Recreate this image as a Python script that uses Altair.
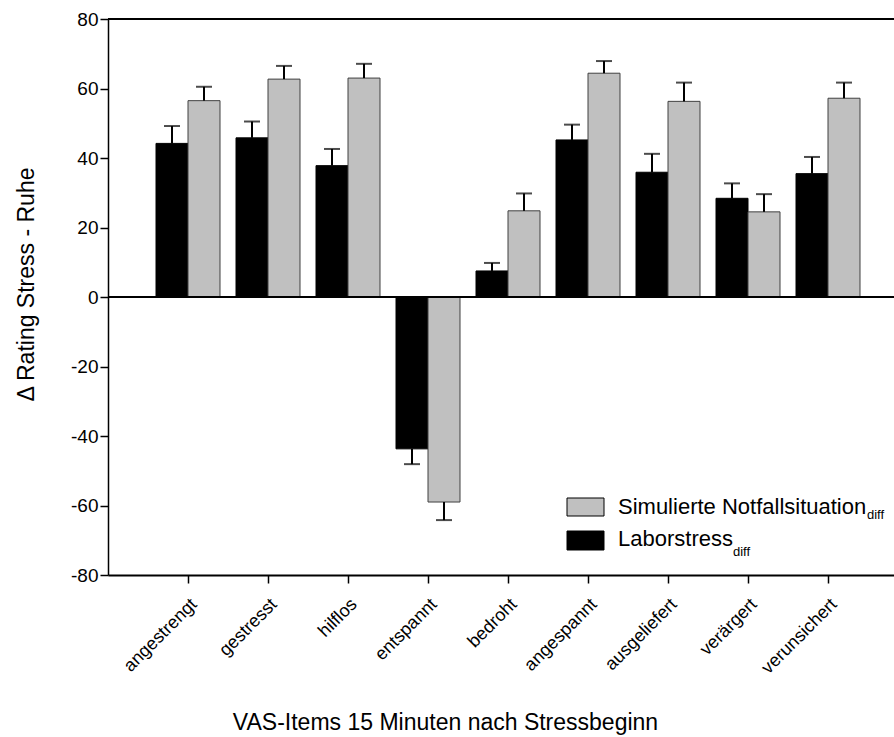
import altair as alt
import pandas as pd

items = ["angestrengt", "gestresst", "hilflos", "entspannt", "bedroht",
         "angespannt", "ausgeliefert", "verärgert", "verunsichert"]
labor = [44.2, 45.8, 37.8, -43.7, 7.5, 45.2, 35.9, 28.4, 35.5]
labor_se = [5.0, 4.7, 4.8, 4.4, 2.3, 4.4, 5.3, 4.3, 4.8]
sim = [56.5, 62.7, 63.0, -59.0, 24.8, 64.4, 56.3, 24.5, 57.2]
sim_se = [4.0, 3.8, 4.1, 5.2, 5.0, 3.5, 5.4, 5.1, 4.5]
series = ["Laborstress", "Simulierte Notfallsituation"]

rows = []
for i, it in enumerate(items):
    for s, vals, ses in ((series[0], labor, labor_se), (series[1], sim, sim_se)):
        v = vals[i]
        e = ses[i]
        rows.append({"item": it, "series": s, "value": v, "err": e,
                     "cap": v + (e if v >= 0 else -e)})
df = pd.DataFrame(rows)

FONT = "Liberation Sans"

xenc = alt.X("item:N", sort=items,
             scale=alt.Scale(paddingInner=0.2, paddingOuter=0.5125, align=0.5854),
             axis=alt.Axis(title="VAS-Items 15 Minuten nach Stressbeginn",
                           labelAngle=-45, labelAlign="right", labelBaseline="top",
                           labelPadding=12, labelFontSize=18, labelColor="black", labelFont=FONT,
                           tickSize=8, tickColor="black", tickWidth=1.5,
                           domainColor="black", domainWidth=2,
                           titleFont=FONT, titleFontSize=23, titleFontWeight="normal", titleColor="black",
                           titleX=337, titleY=154, titleBaseline="alphabetic",
                           titleAnchor="start", titleAlign="center"))
yscale = alt.Scale(domain=[-80, 80], nice=False, zero=False)
yaxis = alt.Axis(title="Δ Rating Stress - Ruhe", values=list(range(-80, 81, 20)),
                 labelExpr="datum.value < 0 ? '-' + abs(datum.value) : '' + datum.value",
                 labelFont=FONT, labelFontSize=19, labelColor="black", labelPadding=2,
                 tickSize=8, tickColor="black", tickWidth=1.5,
                 domainColor="black", domainWidth=1.5, grid=False,
                 titleFont=FONT, titleFontSize=23, titleFontWeight="normal", titleColor="black",
                 titleX=-75, titleY=265, titleBaseline="alphabetic", titleAngle=-90)
xoff = alt.XOffset("series:N", sort=series,
                   scale=alt.Scale(paddingInner=0, paddingOuter=0))

base = alt.Chart(df)

bars = base.mark_bar(strokeWidth=1).encode(
    x=xenc,
    xOffset=xoff,
    y=alt.Y("value:Q", scale=yscale, axis=yaxis),
    y2=alt.datum(0),
    fill=alt.Fill("series:N", scale=alt.Scale(domain=series, range=["#000000", "#c0c0c0"]), legend=None),
    stroke=alt.Stroke("series:N", scale=alt.Scale(domain=series, range=["#000000", "#404040"]), legend=None),
)

err_rule = base.mark_rule(color="black", strokeWidth=2).encode(
    x=alt.X("item:N", sort=items),
    xOffset=xoff,
    y=alt.Y("value:Q"),
    y2="cap:Q",
)
err_cap = base.mark_tick(color="black", size=16, thickness=2).encode(
    x=alt.X("item:N", sort=items),
    xOffset=xoff,
    y=alt.Y("cap:Q"),
)

zero_line = alt.Chart(pd.DataFrame({"z": [0]})).mark_rule(color="black", strokeWidth=2).encode(
    y=alt.Y("z:Q"))
top_line = alt.Chart(pd.DataFrame({"t": [80]})).mark_rule(color="black", strokeWidth=2).encode(
    y=alt.Y("t:Q"))

one = pd.DataFrame({"a": [0]})
leg_gray = alt.Chart(one).mark_rect(fill="#c0c0c0", stroke="#000000", strokeWidth=1).encode(
    x=alt.value(459), x2=alt.value(496), y=alt.value(479), y2=alt.value(497))
leg_black = alt.Chart(one).mark_rect(fill="#000000", stroke="#000000", strokeWidth=1).encode(
    x=alt.value(459), x2=alt.value(496), y=alt.value(512), y2=alt.value(531))
leg_t1 = alt.Chart(one).mark_text(text="Simulierte Notfallsituation", font=FONT, fontSize=22,
                                  align="left", baseline="alphabetic", color="black").encode(
    x=alt.value(510), y=alt.value(495))
leg_s1 = alt.Chart(one).mark_text(text="diff", font=FONT, fontSize=13,
                                  align="left", baseline="alphabetic", color="black").encode(
    x=alt.value(759), y=alt.value(500))
leg_t2 = alt.Chart(one).mark_text(text="Laborstress", font=FONT, fontSize=22,
                                  align="left", baseline="alphabetic", color="black").encode(
    x=alt.value(510), y=alt.value(527))
leg_s2 = alt.Chart(one).mark_text(text="diff", font=FONT, fontSize=13,
                                  align="left", baseline="alphabetic", color="black").encode(
    x=alt.value(625), y=alt.value(537))

chart = alt.layer(bars, err_rule, err_cap, zero_line, top_line,
                  leg_gray, leg_black, leg_t1, leg_s1, leg_t2, leg_s2).properties(
    width=786, height=556,
    padding={"left": 108, "top": 19, "right": 0, "bottom": 162},
    autosize=alt.AutoSizeParams(type="none"),
).configure_view(stroke=None).configure(font=FONT, background="white")

chart.save("out.html", embed_options={"renderer": "svg", "actions": False})
